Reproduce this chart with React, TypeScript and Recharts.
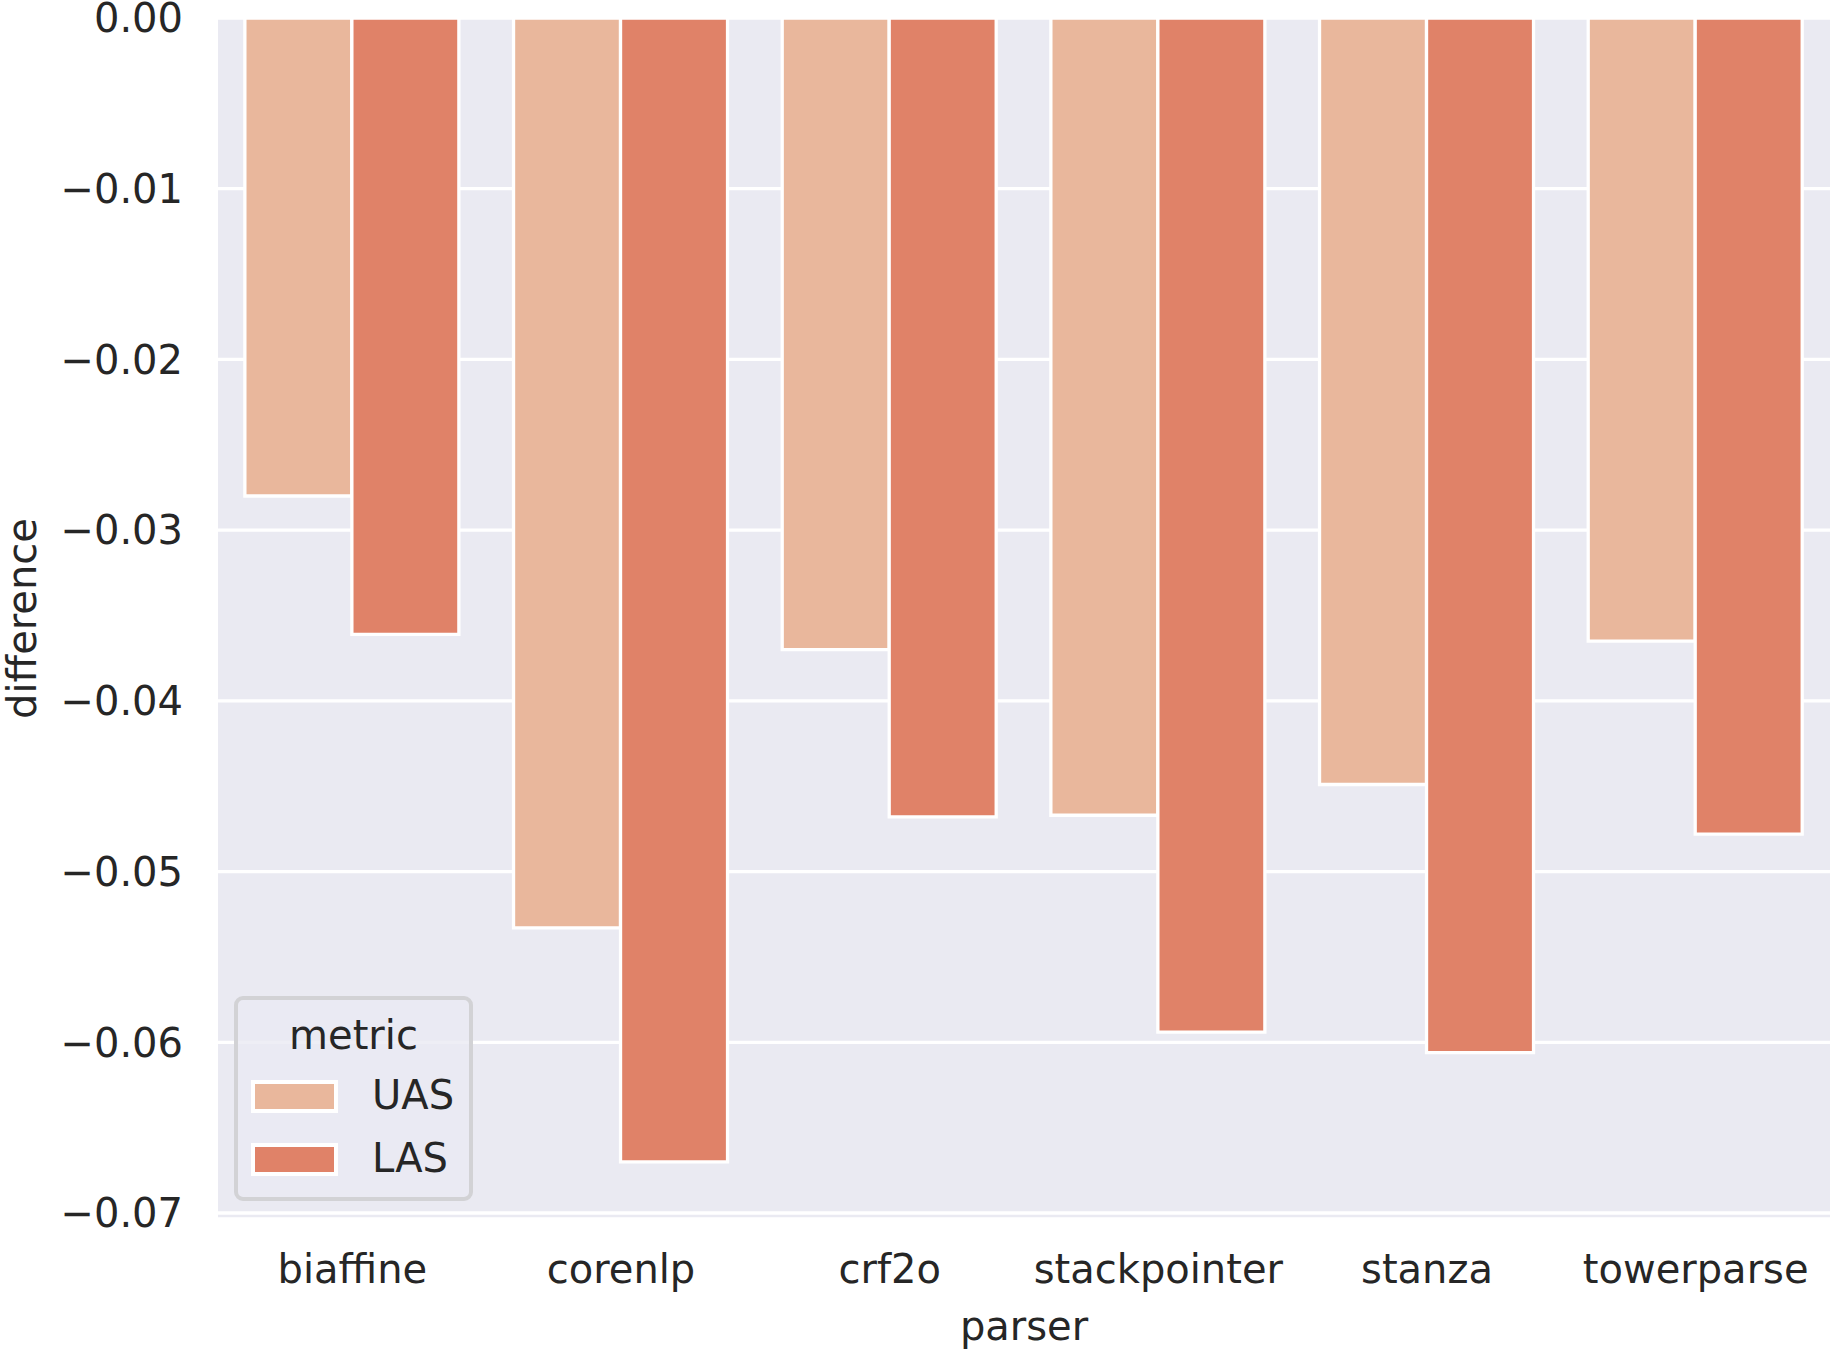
import React from "react";
import { BarChart, Bar, XAxis, YAxis, CartesianGrid, Legend } from "recharts";

const parsers = ["biaffine", "corenlp", "crf2o", "stackpointer", "stanza", "towerparse"];
const metrics = ["UAS", "LAS"];
const uas = [-0.028, -0.0533, -0.037, -0.0467, -0.0449, -0.0365];
const las = [-0.0361, -0.067, -0.0468, -0.0594, -0.0606, -0.0478];
const yTicks = [0, -0.01, -0.02, -0.03, -0.04, -0.05, -0.06, -0.07];

const data = parsers.map((p, i) => ({ parser: p, UAS: uas[i], LAS: las[i] }));

const FONT = "DejaVu Sans";
const TEXT = "#262626";
const BG = "#eaeaf2";

const fmt = (v: number) => (v === 0 ? "0.00" : "\u2212" + Math.abs(v).toFixed(2));

function YLabel(props: any) {
  const vb = props.viewBox;
  const cy = vb.y + vb.height / 2;
  return (
    <text x={36} y={cy} transform={`rotate(-90, 36, ${cy})`} textAnchor="middle"
      fontSize={40} fontFamily={FONT} fill={TEXT}>
      difference
    </text>
  );
}

function XLabel(props: any) {
  const vb = props.viewBox;
  return (
    <text x={vb.x + vb.width / 2} y={vb.y + 121} textAnchor="middle"
      fontSize={40} fontFamily={FONT} fill={TEXT}>
      parser
    </text>
  );
}

function MetricLegend(props: any) {
  // keep the hue order (UAS, LAS) instead of the alphabetical default
  const items = [...(props.payload || [])].sort(
    (a: any, b: any) => metrics.indexOf(a.value) - metrics.indexOf(b.value)
  );
  return (
    <svg width={239} height={205} style={{ display: "block" }}>
      <rect x={2} y={2} width={235} height={201} rx={7} fill="rgba(234,234,242,0.8)"
        stroke="#d2d2d5" strokeWidth={4} />
      <text x={119.5} y={53} textAnchor="middle" fontSize={40} fontFamily={FONT} fill={TEXT}>
        metric
      </text>
      {items.map((it: any, i: number) => (
        <g key={it.value}>
          <rect x={19} y={86 + i * 63} width={83} height={29} fill={it.color}
            stroke="#ffffff" strokeWidth={4} />
          <text x={138} y={113 + i * 63} fontSize={40} fontFamily={FONT} fill={TEXT}>
            {it.value}
          </text>
        </g>
      ))}
    </svg>
  );
}

export default function App() {
  return (
    <div style={{ position: "absolute", left: 0, top: 0, fontFamily: FONT }}>
      <BarChart width={1830} height={1350} data={data}
        margin={{ top: 18, right: 0, left: 0, bottom: 0 }}
        barCategoryGap="10%" barGap={0}>
        <CartesianGrid vertical={false} stroke="#ffffff" strokeWidth={3.3} fill={BG} />
        <XAxis dataKey="parser" height={131} axisLine={false} tickLine={false}
          tickSize={0} tickMargin={36}
          tick={{ fontSize: 40, fill: TEXT, fontFamily: FONT }}
          label={XLabel} />
        <YAxis type="number" domain={[-0.07035, 0]} ticks={yTicks} width={218}
          axisLine={false} tickLine={false} tickSize={0} tickMargin={35}
          tickFormatter={fmt} interval={0}
          tick={{ fontSize: 40, fill: TEXT, fontFamily: FONT }}
          label={YLabel} />
        <Legend layout="horizontal" verticalAlign="middle" align="center"
          wrapperStyle={{ left: 234, top: 996, width: 239, height: 205 }}
          content={MetricLegend} />
        <Bar dataKey="UAS" name="UAS" fill="#e9b79c" stroke="#ffffff" strokeWidth={3.3}
          isAnimationActive={false} />
        <Bar dataKey="LAS" name="LAS" fill="#e08268" stroke="#ffffff" strokeWidth={3.3}
          isAnimationActive={false} />
      </BarChart>
    </div>
  );
}
